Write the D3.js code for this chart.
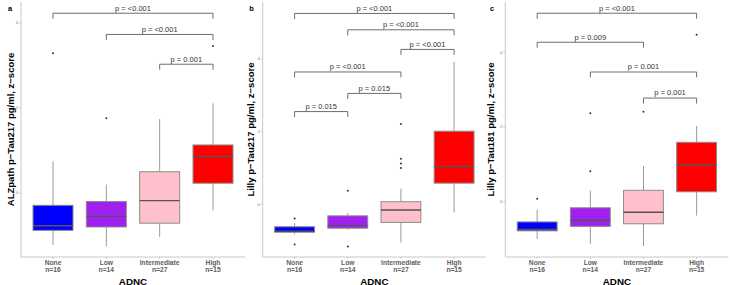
<!DOCTYPE html>
<html>
<head>
<meta charset="utf-8">
<script src="https://cdn.jsdelivr.net/npm/d3@7"></script>
<style>
  body { margin: 0; background: #fff; }
  svg { font-family: "Liberation Sans", Arial, sans-serif; }
  .axisline { stroke: #c8c8c8; stroke-width: 1px; }
  .whisker { stroke: #9a9a9a; stroke-width: 1px; }
  .box { stroke: #8c8c8c; stroke-width: 1px; }
  .median { stroke: #555; stroke-width: 1.4px; }
  .bracket { stroke: #6e6e6e; stroke-width: 1px; fill: none; }
</style>
</head>
<body>
<script>
// categories along x
const categories = ["None", "Low", "Intermediate", "High"]
const counts = [16, 14, 27, 15]
const fills = ["#0000ff", "#a020f0", "#ffc0cb", "#ff0000"]
const yTicks = [0, 2, 4]

// box stats: [lower whisker, q1, median, q3, upper whisker]
const alzStats = [
  [-1.22, -0.88, -0.77, -0.29, 0.74],
  [-1.26, -0.80, -0.55, -0.20, 0.20],
  [-1.03, -0.71, -0.18, 0.50, 1.74],
  [-0.41, 0.23, 0.86, 1.13, 2.11]
]
const alzOutliers = [[3.29], [1.76], [], [3.46]]
const alzBrackets = [
  {from: 0, to: 3, y: 4.23, label: "p = <0.001"},
  {from: 1, to: 3, y: 3.73, label: "p = <0.001"},
  {from: 2, to: 3, y: 3.03, label: "p = 0.001"}
]

const lilly217Stats = [
  [-0.83, -0.77, -0.74, -0.62, -0.52],
  [-0.70, -0.66, -0.59, -0.32, -0.24],
  [-1.05, -0.50, -0.16, 0.07, 0.43],
  [-0.23, 0.58, 1.04, 2.01, 3.92]
]
const lilly217Outliers = [[-0.39, -1.11], [0.37, -1.16], [2.21, 1.25, 1.12, 1.0], []]
const lilly217Brackets = [
  {from: 0, to: 3, y: 5.25, label: "p = <0.001"},
  {from: 1, to: 3, y: 4.80, label: "p = <0.001"},
  {from: 2, to: 3, y: 4.26, label: "p = <0.001"},
  {from: 0, to: 2, y: 3.64, label: "p = <0.001"},
  {from: 1, to: 2, y: 3.05, label: "p = 0.015"},
  {from: 0, to: 1, y: 2.55, label: "p = 0.015"}
]

const lilly181Stats = [
  [-1.01, -0.79, -0.75, -0.55, -0.22],
  [-1.14, -0.67, -0.51, -0.17, 0.29],
  [-1.20, -0.60, -0.29, 0.30, 0.95],
  [-0.38, 0.26, 0.98, 1.59, 2.03]
]
const lilly181Outliers = [[0.07], [0.81, 2.37], [2.41], [4.48]]
const lilly181Brackets = [
  {from: 0, to: 3, y: 5.06, label: "p = <0.001"},
  {from: 0, to: 2, y: 4.28, label: "p = 0.009"},
  {from: 1, to: 3, y: 3.48, label: "p = 0.001"},
  {from: 2, to: 3, y: 2.78, label: "p = 0.001"}
]

// layout per panel
let panels = [
  {tag: "a", title: "ALZpath p\u2212Tau217 pg/ml, z\u2212score", stats: alzStats, outliers: alzOutliers,
   brackets: alzBrackets, left: 21, right: 245, ydom: [-1.506, 4.494], tagX: 10, titleX: 13.5},
  {tag: "b", title: "Lilly p\u2212Tau217 pg/ml, z\u2212score", stats: lilly217Stats, outliers: lilly217Outliers,
   brackets: lilly217Brackets, left: 262.7, right: 486, ydom: [-1.452, 5.565], tagX: 251.5, titleX: 253.5},
  {tag: "c", title: "Lilly p\u2212Tau181 pg/ml, z\u2212score", stats: lilly181Stats, outliers: lilly181Outliers,
   brackets: lilly181Brackets, left: 505.3, right: 728.5, ydom: [-1.493, 5.362], tagX: 492, titleX: 493.5}
]
let plotTop = 2
let plotBottom = 257

let svg = d3.select("body").append("svg")
  .attr("width", 730)
  .attr("height", 285)

panels.forEach(p => {
  let g = svg.append("g")
  let x = d3.scalePoint().domain(categories).range([p.left, p.right]).padding(0.6)
  let y = d3.scaleLinear().domain(p.ydom).range([plotBottom, plotTop])
  let bw = x.step() * 0.75

  // axes
  g.append("line").attr("class", "axisline")
    .attr("x1", p.left).attr("x2", p.left).attr("y1", plotTop).attr("y2", plotBottom)
  g.append("line").attr("class", "axisline")
    .attr("x1", p.left).attr("x2", p.right).attr("y1", plotBottom).attr("y2", plotBottom)
  yTicks.forEach(t => {
    g.append("line").attr("stroke", "#c8c8c8")
      .attr("x1", p.left - 2).attr("x2", p.left).attr("y1", y(t)).attr("y2", y(t))
    g.append("text").attr("x", p.left - 3).attr("y", y(t) + 1.4)
      .attr("text-anchor", "end").attr("font-size", 4).attr("fill", "#777").text(t)
  })
  categories.forEach((c, i) => {
    g.append("line").attr("stroke", "#c8c8c8")
      .attr("x1", x(c)).attr("x2", x(c)).attr("y1", plotBottom).attr("y2", plotBottom + 2)
    let tx = g.append("text").attr("text-anchor", "middle").attr("font-size", 6.7)
      .attr("font-weight", "bold").attr("fill", "#5e5e5e")
    tx.append("tspan").attr("x", x(c)).attr("y", 265.4).text(c)
    tx.append("tspan").attr("x", x(c)).attr("y", 271.8).text("n=" + counts[i])
  })

  // boxes
  p.stats.forEach((s, i) => {
    let cx = x(categories[i])
    g.append("line").attr("class", "whisker")
      .attr("x1", cx).attr("x2", cx).attr("y1", y(s[0])).attr("y2", y(s[1]))
    g.append("line").attr("class", "whisker")
      .attr("x1", cx).attr("x2", cx).attr("y1", y(s[3])).attr("y2", y(s[4]))
    g.append("rect").attr("class", "box")
      .attr("x", cx - bw / 2).attr("width", bw)
      .attr("y", y(s[3])).attr("height", y(s[1]) - y(s[3]))
      .attr("fill", fills[i])
    g.append("line").attr("class", "median")
      .attr("x1", cx - bw / 2).attr("x2", cx + bw / 2).attr("y1", y(s[2])).attr("y2", y(s[2]))
    p.outliers[i].forEach(o => {
      g.append("circle").attr("cx", cx).attr("cy", y(o)).attr("r", 1).attr("fill", "#333")
    })
  })

  // significance brackets
  p.brackets.forEach(b => {
    let x1 = x(categories[b.from])
    let x2 = x(categories[b.to])
    let yy = y(b.y)
    g.append("path").attr("class", "bracket")
      .attr("d", `M${x1},${yy + 5.5}V${yy}H${x2}V${yy + 5.5}`)
    g.append("text").attr("x", (x1 + x2) / 2).attr("y", yy - 2.6)
      .attr("text-anchor", "middle").attr("font-size", 7.5).attr("fill", "#333")
      .text(b.label)
  })

  // titles
  g.append("text").attr("transform", `translate(${p.titleX},${(plotTop + plotBottom) / 2}) rotate(-90)`)
    .attr("text-anchor", "middle").attr("font-size", 9.5).attr("font-weight", "bold")
    .text(p.title)
  g.append("text").attr("x", (p.left + p.right) / 2).attr("y", 284.5)
    .attr("text-anchor", "middle").attr("font-size", 9.8).attr("font-weight", "bold")
    .text("ADNC")
  g.append("text").attr("x", p.tagX).attr("y", 10.5)
    .attr("text-anchor", "middle").attr("font-size", 7.5).attr("font-weight", "bold")
    .text(p.tag)
})
</script>
</body>
</html>
